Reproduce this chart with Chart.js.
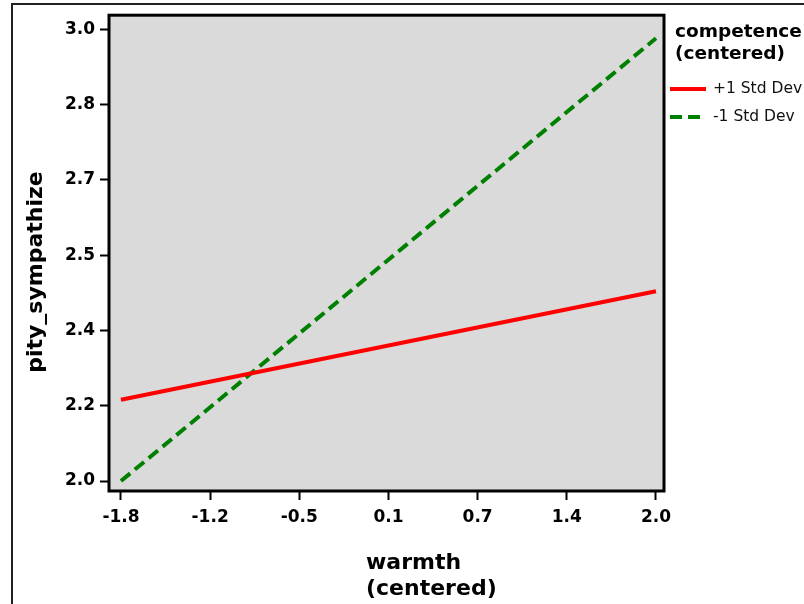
<!DOCTYPE html>
<html>
<head>
<meta charset="utf-8">
<script src="https://cdn.jsdelivr.net/npm/chart.js@4/dist/chart.umd.min.js"></script>
<style>
  html, body { margin: 0; padding: 0; background: #fff; }
  #wrap { width: 804px; height: 604px; }
</style>
</head>
<body>
<div id="wrap"><canvas id="chart" width="804" height="604"></canvas></div>
<script>
// ===== data =====
const warmthLevels = [-1.8, 2.0];
const plusOneSd = [2.18, 2.42];   // competence +1 Std Dev
const minusOneSd = [2.0, 2.98];   // competence -1 Std Dev

const seriesLabels = ['+1 Std Dev', '-1 Std Dev'];

// axis ticks (evenly spaced, labels as printed)
const xTickValues = [-1.8, -1.1667, -0.5333, 0.1, 0.7333, 1.3667, 2.0];
const xTickLabels = ['-1.8', '-1.2', '-0.5', '0.1', '0.7', '1.4', '2.0'];
const yTickValues = [2.0, 2.1667, 2.3333, 2.5, 2.6667, 2.8333, 3.0];
const yTickLabels = ['2.0', '2.2', '2.4', '2.5', '2.7', '2.8', '3.0'];

const xTitle = ['warmth', '(centered)'];
const yTitle = 'pity_sympathize';
const legendTitle = ['competence', '(centered)'];

const FONT = '"DejaVu Sans", sans-serif';

// background, frame, titles and legend
const decorPlugin = {
  id: 'decor',
  beforeDraw(chart) {
    const { ctx, chartArea: a } = chart;
    ctx.save();
    ctx.fillStyle = '#dadada';
    ctx.fillRect(a.left, a.top, a.right - a.left, a.bottom - a.top);
    ctx.restore();
  },
  afterDraw(chart) {
    const { ctx, chartArea: a } = chart;
    ctx.save();

    // outer border of the picture
    ctx.strokeStyle = '#222';
    ctx.lineWidth = 2;
    ctx.beginPath();
    ctx.moveTo(12, 604);
    ctx.lineTo(12, 4);
    ctx.lineTo(804, 4);
    ctx.stroke();

    // plot frame
    ctx.strokeStyle = '#000';
    ctx.lineWidth = 3;
    ctx.strokeRect(a.left, a.top, a.right - a.left, a.bottom - a.top);

    // axis titles
    ctx.fillStyle = '#000';
    ctx.font = 'bold 22px ' + FONT;
    ctx.textAlign = 'left';
    ctx.textBaseline = 'alphabetic';
    ctx.fillText(xTitle[0], 366, 569);
    ctx.fillText(xTitle[1], 366, 595);

    ctx.save();
    ctx.translate(42, 272);
    ctx.rotate(-Math.PI / 2);
    ctx.textAlign = 'center';
    ctx.fillText(yTitle, 0, 0);
    ctx.restore();

    // legend
    ctx.font = 'bold 18.5px ' + FONT;
    ctx.textAlign = 'left';
    ctx.fillText(legendTitle[0], 675, 37);
    ctx.fillText(legendTitle[1], 675, 59);

    ctx.font = '15.5px ' + FONT;
    ctx.textBaseline = 'middle';
    chart.data.datasets.forEach((ds, i) => {
      const y = 89 + i * 28;
      ctx.strokeStyle = ds.borderColor;
      ctx.lineWidth = 4;
      ctx.setLineDash(ds.borderDash || []);
      ctx.beginPath();
      ctx.moveTo(670, y);
      ctx.lineTo(706, y);
      ctx.stroke();
      ctx.setLineDash([]);
      ctx.fillStyle = '#111';
      ctx.fillText(ds.label, 713, y);
    });

    ctx.restore();
  }
};

const ctx = document.getElementById('chart').getContext('2d');

new Chart(ctx, {
  type: 'line',
  data: {
    datasets: [{
      label: seriesLabels[0],
      data: warmthLevels.map((x, i) => ({ x: x, y: plusOneSd[i] })),
      borderColor: '#ff0000',
      borderWidth: 4,
      pointRadius: 0,
      tension: 0,
      fill: false
    }, {
      label: seriesLabels[1],
      data: warmthLevels.map((x, i) => ({ x: x, y: minusOneSd[i] })),
      borderColor: '#008000',
      borderWidth: 4,
      borderDash: [12, 6],
      pointRadius: 0,
      tension: 0,
      fill: false
    }]
  },
  options: {
    responsive: false,
    devicePixelRatio: 1,
    animation: false,
    layout: {
      padding: { top: 15, right: 140, left: 0, bottom: 0 }
    },
    plugins: {
      legend: { display: false },
      tooltip: { enabled: false }
    },
    scales: {
      x: {
        type: 'linear',
        min: -1.885,
        max: 2.057,
        afterFit: (scale) => { scale.height = 113; },
        afterBuildTicks: (scale) => {
          scale.ticks = xTickValues.map(v => ({ value: v }));
        },
        grid: {
          drawOnChartArea: false,
          drawTicks: true,
          tickLength: 9,
          tickWidth: 2,
          tickColor: '#000'
        },
        border: { display: false },
        ticks: {
          autoSkip: false,
          maxRotation: 0,
          padding: 7,
          color: '#000',
          font: { family: FONT, size: 17, weight: 'bold' },
          callback: (value, index) => xTickLabels[index]
        }
      },
      y: {
        type: 'linear',
        min: 1.978,
        max: 3.031,
        afterFit: (scale) => { scale.width = 109; },
        afterBuildTicks: (scale) => {
          scale.ticks = yTickValues.map(v => ({ value: v }));
        },
        grid: {
          drawOnChartArea: false,
          drawTicks: true,
          tickLength: 9,
          tickWidth: 2,
          tickColor: '#000'
        },
        border: { display: false },
        ticks: {
          autoSkip: false,
          padding: 5,
          color: '#000',
          font: { family: FONT, size: 17, weight: 'bold' },
          callback: (value, index) => yTickLabels[index]
        }
      }
    }
  },
  plugins: [decorPlugin]
});
</script>
</body>
</html>
